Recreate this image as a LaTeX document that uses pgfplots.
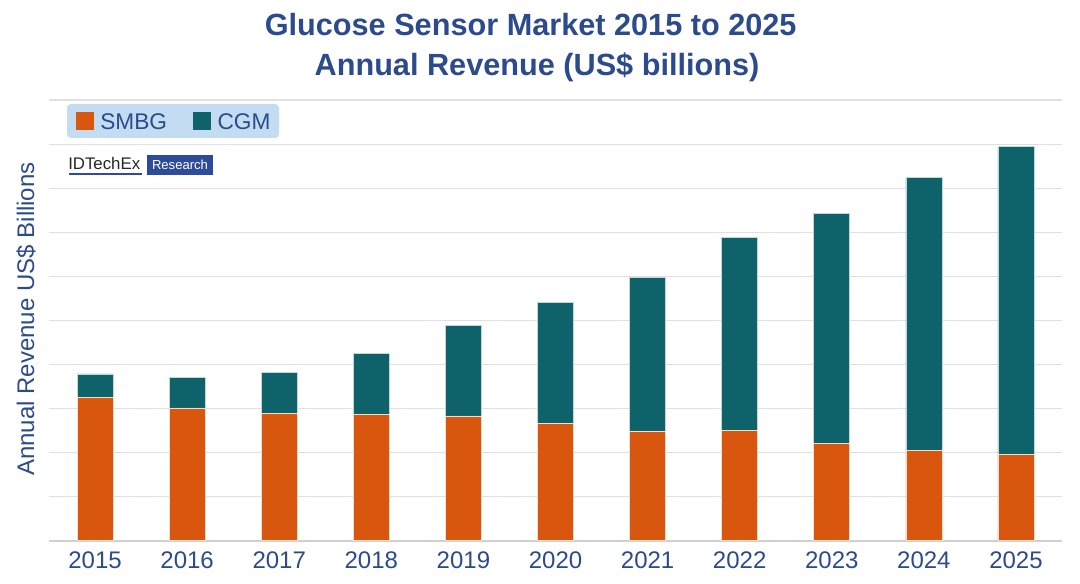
\documentclass[border=0pt]{standalone}
\usepackage{pgfplots}
\usepackage{pgfplotstable}
\pgfplotsset{compat=1.18}
\usepackage{fontspec}
\setmainfont{Liberation Sans}
\definecolor{tblue}{HTML}{2B4B8C}
\definecolor{smbg}{HTML}{D9560E}
\definecolor{cgm}{HTML}{0E636B}
\definecolor{legfill}{HTML}{C3DCF1}
\definecolor{resblue}{HTML}{2E4A9A}
\definecolor{gridc}{HTML}{E0E0E0}
\definecolor{axisc}{HTML}{D0D0D0}
\pgfplotstableread{
x smbg cgm
0 3.24 0.54
1 3.01 0.70
2 2.89 0.92
3 2.86 1.39
4 2.83 2.06
5 2.66 2.75
6 2.47 3.51
7 2.50 4.38
8 2.21 5.22
9 2.05 6.19
10 1.96 6.98
}\datatable
\begin{document}
\begin{tikzpicture}
\path[use as bounding box] (0,0) rectangle (810pt,437.25pt);
\begin{axis}[
  at={(36.75pt,31.875pt)}, anchor=south west,
  scale only axis, width=759.75pt, height=330.375pt,
  xmin=-0.5, xmax=10.5, ymin=0, ymax=10,
  ybar stacked, bar width=27pt,
  axis x line*=bottom, axis y line*=left,
  y axis line style={draw=none},
  x axis line style={draw=axisc, line width=1.5pt, -},
  xtick={0,...,10},
  xticklabels={2015,2016,2017,2018,2019,2020,2021,2022,2023,2024,2025},
  xtick style={draw=none},
  xticklabel style={font=\fontsize{18}{18}\selectfont, text=tblue, anchor=base, yshift=-21.2pt},
  ytick={0,...,10}, yticklabels={}, ytick style={draw=none},
  major tick length=0pt,
  ymajorgrids, grid style={draw=gridc, line width=0.8pt},
]
\addplot[fill=smbg, draw=white!80!smbg, line width=0.5pt] table[x=x, y=smbg] {\datatable};
\addplot[fill=cgm, draw=white!75!cgm, line width=0.5pt] table[x=x, y=cgm] {\datatable};
\end{axis}
% title
\node[anchor=base, inner sep=0, font=\fontsize{23}{23}\selectfont\bfseries, text=tblue] at (398pt,410.25pt) {Glucose Sensor Market 2015 to 2025};
\node[anchor=base, inner sep=0, font=\fontsize{23}{23}\selectfont\bfseries, text=tblue] at (402.75pt,380.25pt) {Annual Revenue (US\$ billions)};
% y label
\node[anchor=base, rotate=90, inner sep=0, font=\fontsize{18}{18}\selectfont, text=tblue] at (25.5pt,198pt) {Annual Revenue US\$ Billions};
% legend
\fill[legfill, rounded corners=3pt] (50.25pt,333.75pt) rectangle (209.25pt,359.25pt);
\fill[smbg] (57.2pt,339.75pt) rectangle (70.7pt,353pt);
\node[anchor=base west, inner sep=0, font=\fontsize{17}{17}\selectfont, text=tblue] at (75pt,340.3pt) {SMBG};
\fill[cgm] (144.5pt,339.75pt) rectangle (158pt,353pt);
\node[anchor=base west, inner sep=0, font=\fontsize{17}{17}\selectfont, text=tblue] at (163pt,340.3pt) {CGM};
% logo
\node[anchor=base west, inner sep=0, font=\fontsize{12.6}{12.6}\selectfont, text=black!85] at (51pt,309.75pt) {IDTechEx};
\draw[resblue, line width=1.2pt] (51.75pt,306.75pt) -- (106.5pt,306.75pt);
\fill[resblue] (110.25pt,306pt) rectangle (159.75pt,321pt);
\node[inner sep=0, font=\fontsize{9.8}{9.8}\selectfont, text=white] at (135pt,313.5pt) {Research};
\end{tikzpicture}
\end{document}
